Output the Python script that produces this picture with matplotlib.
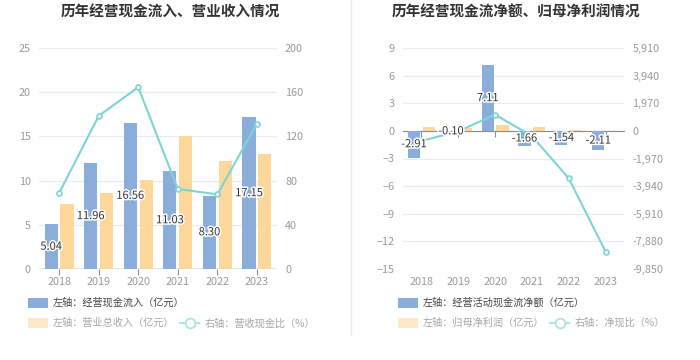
import matplotlib
matplotlib.use("Agg")
import matplotlib.pyplot as plt
import matplotlib.patheffects as pe
from matplotlib.lines import Line2D
from matplotlib.patches import Rectangle
from matplotlib.ticker import FuncFormatter

plt.rcParams['font.family'] = ['Noto Sans CJK SC', 'DejaVu Sans']

years = ['2018', '2019', '2020', '2021', '2022', '2023']

# left chart
cash_in = [5.04, 11.96, 16.56, 11.03, 8.30, 17.15]
revenue = [7.35, 8.62, 10.05, 15.0, 12.25, 13.05]
cash_ratio = [68.6, 138.5, 164.5, 72.5, 67.5, 131.5]

# right chart
net_cash = [-2.91, -0.10, 7.11, -1.66, -1.54, -2.11]
net_profit = [0.42, 0.32, 0.62, 0.46, 0.05, 0.02]
net_ratio = [-720, -30, 1160, -370, -3380, -8610]

BLUE = '#8badd9'
ORANGE = '#fed89a'
ORANGE_LEG = '#fde8c8'
TEAL = '#7dd4d6'
TEAL_LEG = '#a9e4e6'
GRID = '#e6eaf3'
AXIS = '#8c8c8c'
TICK = '#9a9a9a'
DARK = '#333333'

fig = plt.figure(figsize=(7, 3.6), dpi=100)
fig.patch.set_facecolor('white')

x = list(range(len(years)))
bw = 0.33
off = 0.2
stroke = [pe.withStroke(linewidth=2.2, foreground='white')]


def style_axes(ax, ax2):
    for s in ax.spines.values():
        s.set_visible(False)
    for s in ax2.spines.values():
        s.set_visible(False)
    ax.set_xlim(-0.5, len(years) - 0.5)
    ax.grid(axis='y', color=GRID, linewidth=0.9)
    ax.set_axisbelow(True)
    ax.tick_params(axis='y', length=0, colors=TICK, labelsize=7.8, pad=6)
    ax2.tick_params(axis='y', length=0, colors=TICK, labelsize=7.8, pad=6)
    ax.set_xticks(x)
    ax.set_xticklabels([])
    ax.tick_params(axis='x', length=4, width=0.8, color=AXIS)
    for i, yr in enumerate(years):
        ax.text(i, -0.035, yr, transform=ax.get_xaxis_transform(),
                ha='center', va='top', fontsize=7.8, color=TICK)


def legend(fx, labels):
    # fx: left x of legend patches in pixels
    def px(xp, yp):
        return xp / 700, 1 - yp / 360
    r1 = Rectangle(px(fx, 308), 20 / 700, 10 / 360, transform=fig.transFigure,
                   facecolor=BLUE, edgecolor='none')
    r2 = Rectangle(px(fx, 328), 20 / 700, 10 / 360, transform=fig.transFigure,
                   facecolor=ORANGE_LEG, edgecolor='none')
    fig.patches.extend([r1, r2])
    fig.text(*px(fx + 25, 303), labels[0], fontsize=7.3, color='#444444', va='center')
    fig.text(*px(fx + 25, 323), labels[1], fontsize=7.3, color='#a6a6a6', va='center')
    lx = fx + 152
    fig.add_artist(Line2D([lx / 700, (lx + 19) / 700], [1 - 323 / 360] * 2,
                          transform=fig.transFigure, color=TEAL_LEG, lw=1.5))
    fig.add_artist(Line2D([(lx + 9.5) / 700], [1 - 323 / 360], transform=fig.transFigure,
                          marker='o', markersize=7, markerfacecolor='white',
                          markeredgecolor=TEAL_LEG, markeredgewidth=1.3))
    fig.text(*px(lx + 25, 323), labels[2], fontsize=7.3, color='#a6a6a6', va='center')


# ---------- left chart ----------
ax = fig.add_axes([39.3 / 700, 1 - 269 / 360, 237.4 / 700, 221 / 360])
ax2 = ax.twinx()
style_axes(ax, ax2)
ax.set_ylim(0, 25)
ax.set_yticks(range(0, 26, 5))
ax2.set_ylim(0, 200)
ax2.set_yticks(range(0, 201, 40))
ax.axhline(0, color=AXIS, lw=1)
ax.bar([i - off for i in x], cash_in, bw, color=BLUE, zorder=2)
ax.bar([i + off for i in x], revenue, bw, color=ORANGE, zorder=2)
ax2.plot(x, cash_ratio, color=TEAL, lw=1.5, marker='o', markersize=3.6,
         markerfacecolor='white', markeredgecolor=TEAL, markeredgewidth=1.2, zorder=3)
for i, v in enumerate(cash_in):
    ax2.text(i - off, v / 2 * 8, f'{v:.2f}', ha='center', va='center', fontsize=8,
             color=DARK, path_effects=stroke, zorder=5)
fig.text(170 / 700, 1 - 12 / 360, '历年经营现金流入、营业收入情况', ha='center', va='center',
         fontsize=10.5, fontweight='bold', color='#333333')
legend(28, ['左轴：经营现金流入（亿元）', '左轴：营业总收入（亿元）', '右轴：营收现金比（%）'])

# ---------- right chart ----------
bx = fig.add_axes([403 / 700, 1 - 269 / 360, 221 / 700, 221 / 360])
bx2 = bx.twinx()
style_axes(bx, bx2)
bx.set_ylim(-15, 9)
bx.set_yticks(range(-15, 10, 3))
bx2.set_ylim(-9850, 5910)
bx2.set_yticks(range(-9850, 5911, 1970))
bx2.yaxis.set_major_formatter(FuncFormatter(lambda v, p: f'{int(v):,}'))
bx.spines['bottom'].set_visible(True)
bx.spines['bottom'].set_position(('data', 0))
bx.spines['bottom'].set_color(AXIS)
bx.spines['bottom'].set_zorder(1)
bx.bar([i - off for i in x], net_cash, bw, color=BLUE, zorder=2)
bx.bar([i + off for i in x], net_profit, bw, color=ORANGE, zorder=2)
bx2.plot(x, net_ratio, color=TEAL, lw=1.5, marker='o', markersize=3.6,
         markerfacecolor='white', markeredgecolor=TEAL, markeredgewidth=1.2, zorder=3)
for i, v in enumerate(net_cash):
    bx2.text(i - off, v / 2 * 1970 / 3, f'{v:.2f}', ha='center', va='center', fontsize=8,
             color=DARK, path_effects=stroke, zorder=5)
fig.text(516 / 700, 1 - 12 / 360, '历年经营现金流净额、归母净利润情况', ha='center', va='center',
         fontsize=10.5, fontweight='bold', color='#333333')
legend(398, ['左轴：经营活动现金流净额（亿元）', '左轴：归母净利润（亿元）', '右轴：净现比（%）'])

# separator
fig.add_artist(Line2D([351 / 700] * 2, [1 - 335 / 360, 1], transform=fig.transFigure,
                      color='#eeeeee', lw=1))

fig.savefig('out.png', dpi=100, facecolor='white')
